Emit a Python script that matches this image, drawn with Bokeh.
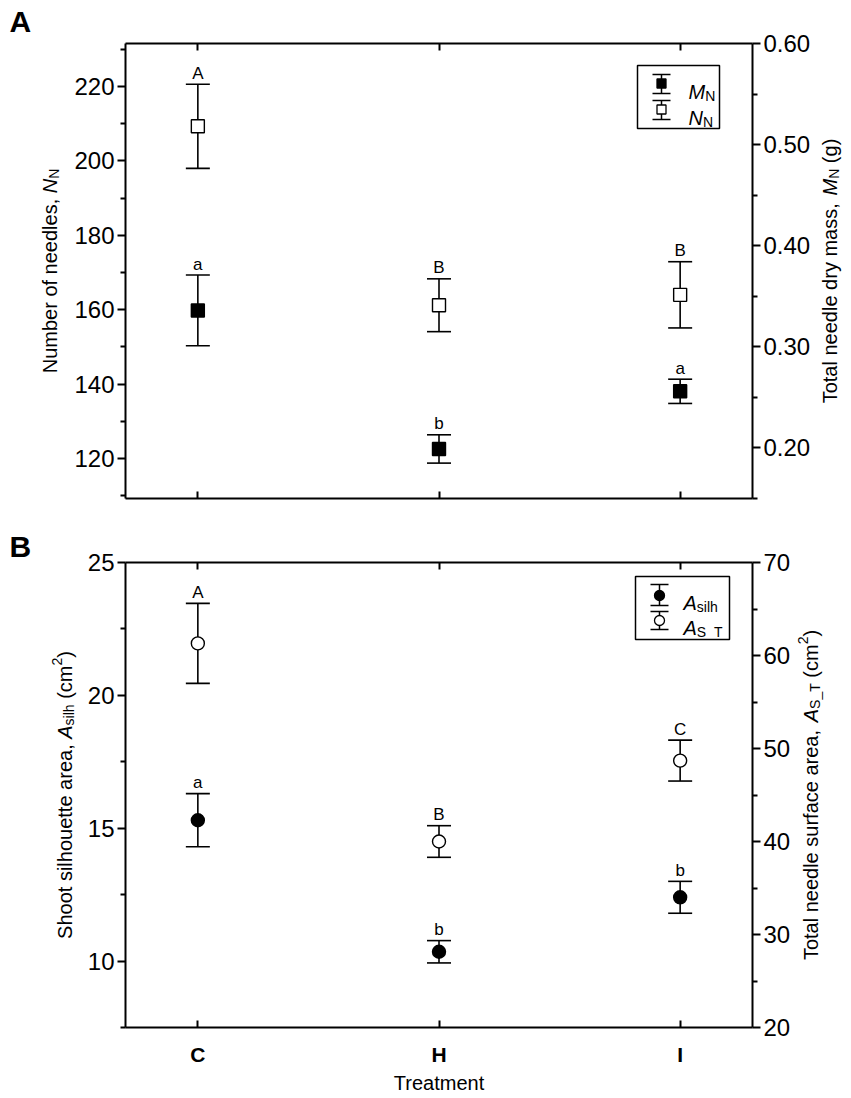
import numpy as np
from bokeh.plotting import figure
from bokeh.models import Range1d, LinearAxis, FixedTicker, NumeralTickFormatter, Label
from bokeh.layouts import column
from bokeh.core.properties import value
from bokeh.embed import file_html
from bokeh.resources import INLINE

# ---------------- data ----------------
treatments = ["C", "H", "I"]

# Panel A
needles_mean = [209.3, 161.2, 164.0]      # N_N, left axis
needles_err = [11.3, 7.1, 8.9]
needles_letters = ["A", "B", "B"]
mass_mean = [0.336, 0.199, 0.256]         # M_N (g), right axis
mass_err = [0.035, 0.014, 0.012]
mass_letters = ["a", "b", "a"]

# Panel B
surface_mean = [61.3, 40.0, 48.7]         # A_S_T (cm2), right axis
surface_err = [4.3, 1.7, 2.2]
surface_letters = ["A", "B", "C"]
silh_mean = [15.3, 10.35, 12.4]           # A_silh (cm2), left axis
silh_err = [1.0, 0.42, 0.6]
silh_letters = ["a", "b", "b"]

# axis limits and ticks
x_limits = (0.7, 3.3)
A_left_limits = (109.25, 231.56)
A_right_limits = (0.15, 0.60)
B_left_limits = (7.5, 25.0)
B_right_limits = (20.0, 70.0)
ticks_A_left = [120, 140, 160, 180, 200, 220]
minor_A_left = [110, 130, 150, 170, 190, 210, 230]
ticks_A_right = [0.2, 0.3, 0.4, 0.5, 0.6]
minor_A_right = [0.15, 0.25, 0.35, 0.45, 0.55]
ticks_B_left = [10, 15, 20, 25]
minor_B_left = [7.5, 12.5, 17.5, 22.5]
ticks_B_right = [20, 30, 40, 50, 60, 70]
minor_B_right = [25, 35, 45, 55, 65]

FONT = "Liberation Sans"
xs = [i + 1 for i in range(len(treatments))]
x_over = {i + 1: t for i, t in enumerate(treatments)}

# Arial / Liberation Sans advance widths (per 1000 em)
W = {' ': 278, '(': 333, ')': 333, ',': 278, '2': 556, '_': 556,
     'a': 556, 'b': 556, 'c': 500, 'd': 556, 'e': 556, 'f': 278, 'g': 556, 'h': 556,
     'i': 222, 'l': 222, 'm': 833, 'n': 556, 'o': 556, 'r': 333, 's': 500, 't': 278,
     'u': 556, 'y': 500, 'N': 722, 'M': 833, 'A': 667, 'S': 667, 'T': 611}

CW = 851  # canvas width
BOX_X = (125, 752)  # plot box, canvas px


def tw(s, size):
    return sum(W.get(ch, 556) for ch in s) * size / 1000.0


def xrange_full(lo, hi, p0, p1, total):
    u = (hi - lo) / (p1 - p0)
    return Range1d(lo - p0 * u, hi + (total - p1) * u)


def yrange_full(lo, hi, ptop, pbot, total):
    u = (hi - lo) / (pbot - ptop)
    return Range1d(lo - (total - pbot) * u, hi + ptop * u)


def vertical_label(p, pieces, x, yc):
    total = sum(tw(t, s) for t, s, st, sh in pieces)
    y = yc - total / 2.0
    for t, s, st, sh in pieces:
        lead = len(t) - len(t.lstrip(" "))
        y += tw(" " * lead, s)
        body = t.strip(" ")
        p.add_layout(Label(x=x + sh, y=y, x_units="screen", y_units="screen", text=body,
                           angle=np.pi / 2, text_align="left", text_baseline="alphabetic",
                           text_font=FONT, text_font_size=f"{s}px", text_font_style=st,
                           text_color="black"))
        y += tw(t.lstrip(" "), s)


def make_fig(height, box_y, yl, yr, tl, ml, tr, mr, right_fmt, show_x):
    p = figure(width=CW, height=height,
               x_range=xrange_full(x_limits[0], x_limits[1], BOX_X[0], BOX_X[1], CW),
               y_range=yrange_full(yl[0], yl[1], box_y[0], box_y[1], height),
               output_backend="svg", toolbar_location=None,
               min_border_left=0, min_border_right=0, min_border_top=0,
               min_border_bottom=0, x_axis_type=None, y_axis_type=None)
    p.extra_y_ranges = {"right": yrange_full(yr[0], yr[1], box_y[0], box_y[1], height),
                        "ly": Range1d(height, 0)}
    p.extra_x_ranges = {"lx": Range1d(0, CW)}
    p.xgrid.visible = False
    p.ygrid.visible = False
    p.outline_line_color = None
    p.background_fill_color = "white"
    p.border_fill_color = "white"

    def style_y(ax):
        ax.axis_line_width = 2
        ax.axis_line_color = "black"
        ax.major_tick_line_width = 2
        ax.minor_tick_line_width = 2
        ax.major_tick_in = 0
        ax.major_tick_out = 8
        ax.minor_tick_in = 0
        ax.minor_tick_out = 5
        ax.major_label_text_font = FONT
        ax.major_label_text_font_size = "24px"
        ax.major_label_text_color = "black"
        ax.major_label_standoff = 3

    left = LinearAxis(ticker=FixedTicker(ticks=tl, minor_ticks=ml),
                      fixed_location=x_limits[0], bounds=yl)
    style_y(left)
    p.add_layout(left, "left")
    right = LinearAxis(y_range_name="right", ticker=FixedTicker(ticks=tr, minor_ticks=mr),
                       fixed_location=x_limits[1], bounds=yr)
    if right_fmt:
        right.formatter = NumeralTickFormatter(format=right_fmt)
    style_y(right)
    p.add_layout(right, "right")

    for loc, fl in (("below", yl[0]), ("above", yl[1])):
        ax = LinearAxis(ticker=FixedTicker(ticks=xs, minor_ticks=[]),
                        fixed_location=fl, bounds=x_limits)
        ax.axis_line_width = 2
        ax.axis_line_color = "black"
        ax.major_tick_line_width = 2
        ax.major_tick_in = 7
        ax.major_tick_out = 0
        ax.minor_tick_in = 0
        ax.minor_tick_out = 0
        if loc == "below" and show_x:
            ax.major_label_overrides = x_over
            ax.major_label_text_font = FONT
            ax.major_label_text_font_style = "bold"
            ax.major_label_text_font_size = "21px"
            ax.major_label_text_color = "black"
            ax.major_label_standoff = 15
        else:
            ax.major_label_overrides = {k: "" for k in xs}
            ax.major_label_text_font_size = "1px"
            ax.major_label_standoff = 0
        p.add_layout(ax, loc)
    return p


def errbars(p, mean, err, letters, marker, fill, range_name="default"):
    m = np.array(mean, dtype=float)
    e = np.array(err, dtype=float)
    hi = m + e
    lo = m - e
    kw = {} if range_name == "default" else {"y_range_name": range_name}
    p.segment(x0=xs, y0=lo, x1=xs, y1=hi, line_color="black", line_width=1.6, **kw)
    p.scatter(x=xs + xs, y=list(hi) + list(lo), marker="dash", size=24,
              line_color="black", line_width=1.6, **kw)
    p.scatter(x=xs, y=m, marker=marker, size=13, fill_color=fill, line_color="black",
              line_width=1.4, **kw)
    p.text(x=xs, y=hi, text=letters, y_offset=-11, text_align="center",
           text_baseline="alphabetic", text_font=value(FONT), text_font_size="17px",
           text_color="black", **kw)


def legend_icon(p, xc, ytop, ybot, ymark, marker, fill, size):
    kw = dict(x_range_name="lx", y_range_name="ly")
    p.segment(x0=[xc], y0=[ytop], x1=[xc], y1=[ybot], line_color="black", line_width=1.5, **kw)
    p.scatter(x=[xc, xc], y=[ytop, ybot], marker="dash", size=18, line_color="black",
              line_width=1.5, **kw)
    p.scatter(x=[xc], y=[ymark], marker=marker, size=size, fill_color=fill,
              line_color="black", line_width=1.3, **kw)


def legend_text(p, x, y, pieces):
    kw = dict(x_range_name="lx", y_range_name="ly")
    for t, s, st, dy in pieces:
        p.text(x=[x], y=[y], text=[t], y_offset=dy, text_align="left",
               text_baseline="alphabetic", text_font=value(FONT),
               text_font_size=f"{s}px", text_font_style=st, text_color="black", **kw)
        x += tw(t, s)


# ---------------- Panel A ----------------
HA = 530
BOX_YA = (43, 498)
pA = make_fig(HA, BOX_YA, A_left_limits, A_right_limits,
              ticks_A_left, minor_A_left, ticks_A_right, minor_A_right, "0.00", False)
errbars(pA, mass_mean, mass_err, mass_letters, "square", "black", "right")
errbars(pA, needles_mean, needles_err, needles_letters, "square", "white")

pA.quad(left=[637], right=[719], top=[65], bottom=[128], fill_color="white",
        line_color="black", line_width=1.5, x_range_name="lx", y_range_name="ly")
legend_icon(pA, 661, 74, 93, 83, "square", "black", 9)
legend_icon(pA, 661, 100, 119, 109, "square", "white", 9)
legend_text(pA, 688, 91, [("M", 20, "italic", 0), ("N", 14, "normal", 4)])
legend_text(pA, 688, 117, [("N", 20, "italic", 0), ("N", 14, "normal", 4)])

yc_A = HA - (BOX_YA[0] + BOX_YA[1]) / 2.0
vertical_label(pA, [("Number of needles, ", 20, "normal", 0), ("N", 20, "italic", 0),
                    ("N", 14, "normal", 4)], 49, yc_A)
vertical_label(pA, [("Total needle dry mass, ", 20, "normal", 0), ("M", 20, "italic", 0),
                    ("N", 14, "normal", 4), (" (g)", 20, "normal", 0)], 829, yc_A)
pA.add_layout(Label(x=9, y=HA - 21, x_units="screen", y_units="screen", text="A",
                    text_font=FONT, text_font_size="30px", text_font_style="bold",
                    text_baseline="alphabetic", text_color="black"))

# ---------------- Panel B ----------------
HB = 568
BOX_YB = (32, 497)
pB = make_fig(HB, BOX_YB, B_left_limits, B_right_limits,
              ticks_B_left, minor_B_left, ticks_B_right, minor_B_right, None, True)
errbars(pB, silh_mean, silh_err, silh_letters, "circle", "black")
errbars(pB, surface_mean, surface_err, surface_letters, "circle", "white", "right")

pB.quad(left=[635], right=[729], top=[46], bottom=[109], fill_color="white",
        line_color="black", line_width=1.5, x_range_name="lx", y_range_name="ly")
legend_icon(pB, 659, 54, 75, 65, "circle", "black", 10)
legend_icon(pB, 659, 81, 99, 90, "circle", "white", 10)
legend_text(pB, 683, 72, [("A", 20, "italic", 0), ("silh", 14, "normal", 4)])
legend_text(pB, 683, 97, [("A", 20, "italic", 0), ("S_T", 14, "normal", 4)])

yc_B = HB - (BOX_YB[0] + BOX_YB[1]) / 2.0
vertical_label(pB, [("Shoot silhouette area, ", 20, "normal", 0), ("A", 20, "italic", 0),
                    ("silh", 14, "normal", 4), (" (cm", 20, "normal", 0),
                    ("2", 14, "normal", -8), (")", 20, "normal", 0)], 64, yc_B)
vertical_label(pB, [("Total needle surface area, ", 20, "normal", 0), ("A", 20, "italic", 0),
                    ("S_T", 14, "normal", 4), (" (cm", 20, "normal", 0),
                    ("2", 14, "normal", -8), (")", 20, "normal", 0)], 810, yc_B)
pB.add_layout(Label(x=(BOX_X[0] + BOX_X[1]) / 2.0, y=16, x_units="screen", y_units="screen",
                    text="Treatment", text_font=FONT, text_font_size="20px",
                    text_align="center", text_baseline="alphabetic", text_color="black"))
pB.add_layout(Label(x=9, y=HB - 16, x_units="screen", y_units="screen", text="B",
                    text_font=FONT, text_font_size="30px", text_font_style="bold",
                    text_baseline="alphabetic", text_color="black"))

layout = column(pA, pB)
open("out.html", "w").write(file_html(layout, INLINE))
